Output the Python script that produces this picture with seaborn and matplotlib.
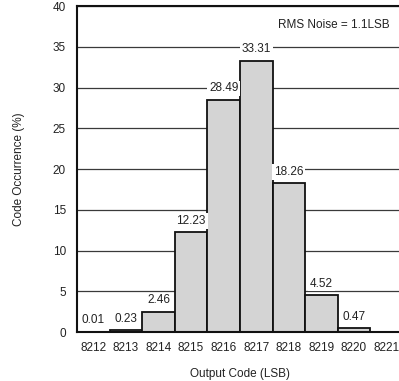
import numpy as np
import pandas as pd
import seaborn as sns
import matplotlib
matplotlib.use('Agg')
import matplotlib.pyplot as plt

codes = [8212, 8213, 8214, 8215, 8216, 8217, 8218, 8219, 8220, 8221]
occurrence = [0.01, 0.23, 2.46, 12.23, 28.49, 33.31, 18.26, 4.52, 0.47, 0.0]
value_labels = ['0.01', '0.23', '2.46', '12.23', '28.49', '33.31', '18.26', '4.52', '0.47', '']

df = pd.DataFrame({'code': codes, 'pct': occurrence})

sns.set_style('white')
plt.rcParams['font.family'] = ['Liberation Sans', 'DejaVu Sans']

fig = plt.figure(figsize=(3.99, 3.81), dpi=100)
ax = fig.add_axes([0.193, 0.1286, 0.815, 0.855])

ax.set_axisbelow(True)
ax.yaxis.grid(True, color='#3a3a3a', linewidth=0.9)

sns.histplot(data=df, x='code', weights='pct', binwidth=1, binrange=(8212, 8222),
             color='#d4d4d4', edgecolor='#111111', linewidth=1.3, alpha=1, ax=ax)

for c, v, lab in zip(codes, occurrence, value_labels):
    if lab:
        ax.annotate(lab, (c + 0.5, v), xytext=(0, 4), textcoords='offset points',
                    ha='center', va='bottom', fontsize=8.5, color='#222222',
                    bbox=dict(boxstyle='square,pad=0.15', fc='white', ec='none'))

ax.text(0.962, 0.962, 'RMS Noise = 1.1LSB', transform=ax.transAxes,
        ha='right', va='top', fontsize=8.5, color='#222222',
        bbox=dict(boxstyle='square,pad=0.2', fc='white', ec='none'))

ax.set_xlim(8212, 8221.98)
ax.set_ylim(0, 40)
ax.set_yticks(range(0, 41, 5))
ax.set_xticks(np.arange(8212, 8222), minor=True)
ax.set_xticks(np.array(codes) + 0.5)
ax.set_xticklabels([str(c) for c in codes])
ax.tick_params(axis='x', which='major', length=0, pad=7, labelsize=8.5, labelcolor='#222222')
ax.tick_params(axis='x', which='minor', length=4, width=1, color='#222222', direction='out')
ax.tick_params(axis='y', length=0, pad=8, labelsize=8.5, labelcolor='#222222')

for s in ['left', 'bottom', 'top', 'right']:
    ax.spines[s].set_color('#111111')
    ax.spines[s].set_linewidth(1.5)

ax.set_xlabel('Output Code (LSB)', fontsize=8.5, color='#222222', labelpad=10)
ax.set_ylabel('Code Occurrence (%)', fontsize=8.5, color='#222222', labelpad=20)

fig.savefig('out.png', dpi=100)
